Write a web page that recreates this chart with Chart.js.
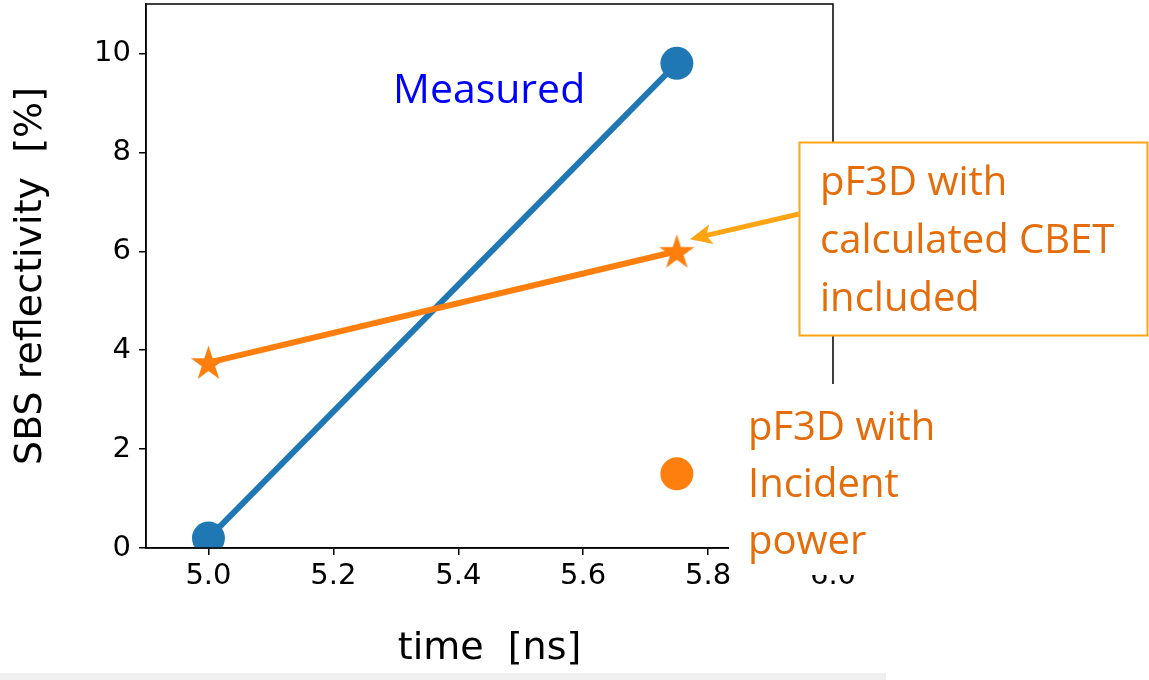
<!DOCTYPE html>
<html>
<head>
<meta charset="utf-8">
<script src="https://cdn.jsdelivr.net/npm/chart.js@4/dist/chart.umd.min.js"></script>
<style>
  html, body { margin: 0; padding: 0; background: #ffffff; }
  #wrap { width: 1149px; height: 680px; position: relative; }
  canvas { display: block; }
</style>
</head>
<body>
<div id="wrap"><canvas id="c" width="1149" height="680"></canvas></div>
<script>
// ---- data ----
const timeMeasured = [5.0, 5.75];
const reflMeasured = [0.2, 9.8];
const timeCBET = [5.0, 5.75];
const reflCBET = [3.75, 6.0];
const timeIncident = [5.75];
const reflIncident = [1.5];
const xTicks = [5.0, 5.2, 5.4, 5.6, 5.8, 6.0];
const yTicks = [0, 2, 4, 6, 8, 10];
const xTitle = 'time  [ns]';
const yTitle = 'SBS reflectivity  [%]';
const labelMeasured = 'Measured';
const labelCBET = ['pF3D with', 'calculated CBET', 'included'];
const labelIncident = ['pF3D with', 'Incident', 'power'];

const BLUE = '#1f77b4';
const ORANGE = '#ff7f0e';
const NOTE_ORANGE = '#E46C0A';
const BOX_ORANGE = '#FFA412';

function toPoints(xs, ys) { return xs.map((x, i) => ({ x: x, y: ys[i] })); }

function makeStar(r, color) {
  const c = document.createElement('canvas');
  const s = Math.ceil(r * 2 + 2);
  c.width = s; c.height = s;
  const g = c.getContext('2d');
  g.fillStyle = color;
  g.beginPath();
  for (let i = 0; i < 10; i++) {
    const rr = (i % 2) ? r * 0.381966 : r;
    const a = -Math.PI / 2 + i * Math.PI / 5;
    g.lineTo(s / 2 + rr * Math.cos(a), s / 2 + 1.5 + rr * Math.sin(a));
  }
  g.closePath();
  g.fill();
  return c;
}
const starImg = makeStar(18.5, ORANGE);

const overlay = {
  id: 'overlay',
  afterDraw(chart) {
    const ctx = chart.ctx;
    const xs = chart.scales.x, ys = chart.scales.y;
    ctx.save();
    // bottom grey strip of the slide
    ctx.fillStyle = '#F0F0F0';
    ctx.fillRect(0, 673, 886, 7);
    // white text area hiding part of the frame
    ctx.fillStyle = '#ffffff';
    ctx.fillRect(729, 384, 260, 191);
    // "Measured"
    ctx.font = '41px "Open Sans"';
    ctx.fillStyle = '#0000FF';
    ctx.textAlign = 'left';
    ctx.textBaseline = 'alphabetic';
    ctx.fillText(labelMeasured, 393, 103);
    // Incident note
    ctx.font = '40px "Open Sans"';
    ctx.fillStyle = NOTE_ORANGE;
    labelIncident.forEach((t, i) => ctx.fillText(t, 748, 440 + i * 57));
    // CBET box
    ctx.fillStyle = '#ffffff';
    ctx.fillRect(799, 142, 349, 194);
    ctx.strokeStyle = BOX_ORANGE;
    ctx.lineWidth = 2;
    ctx.strokeRect(799.5, 142.5, 348, 193);
    ctx.fillStyle = NOTE_ORANGE;
    labelCBET.forEach((t, i) => ctx.fillText(t, 820, 195 + i * 58));
    // arrow from box to the CBET star
    const sx = xs.getPixelForValue(timeCBET[1]);
    const sy = ys.getPixelForValue(reflCBET[1]);
    const tipX = sx + 13, tipY = sy - 12;
    const fromX = 799, fromY = 214;
    const ang = Math.atan2(tipY - fromY, tipX - fromX);
    const headLen = 22, headW = 10;
    const bx = tipX - headLen * Math.cos(ang), by = tipY - headLen * Math.sin(ang);
    ctx.strokeStyle = BOX_ORANGE;
    ctx.lineWidth = 5;
    ctx.beginPath();
    ctx.moveTo(fromX, fromY);
    ctx.lineTo(bx + 6 * Math.cos(ang), by + 6 * Math.sin(ang));
    ctx.stroke();
    ctx.fillStyle = BOX_ORANGE;
    ctx.beginPath();
    ctx.moveTo(tipX, tipY);
    ctx.lineTo(bx - headW * Math.sin(ang), by + headW * Math.cos(ang));
    ctx.lineTo(bx + 5 * Math.cos(ang), by + 5 * Math.sin(ang));
    ctx.lineTo(bx + headW * Math.sin(ang), by - headW * Math.cos(ang));
    ctx.closePath();
    ctx.fill();
    ctx.restore();
  }
};

const frame = {
  id: 'frame',
  afterDatasetsDraw(chart) {
    const a = chart.chartArea, ctx = chart.ctx;
    ctx.save();
    ctx.strokeStyle = '#000';
    ctx.lineWidth = 1.5;
    ctx.strokeRect(a.left, a.top, a.right - a.left, a.bottom - a.top);
    ctx.restore();
  }
};

const tickFont = { family: 'DejaVu Sans', size: 29 };
const titleFont = { family: 'DejaVu Sans', size: 38 };

new Chart(document.getElementById('c'), {
  type: 'line',
  data: {
    datasets: [
      {
        label: 'Measured',
        data: toPoints(timeMeasured, reflMeasured),
        borderColor: BLUE, backgroundColor: BLUE,
        borderWidth: 6, pointRadius: 16.5, pointHoverRadius: 16.5,
        pointBorderWidth: 0, pointBackgroundColor: BLUE,
        clip: { left: false, top: false, right: false, bottom: 0 },
        order: 3
      },
      {
        label: 'pF3D with calculated CBET included',
        data: toPoints(timeCBET, reflCBET),
        borderColor: ORANGE, backgroundColor: ORANGE,
        borderWidth: 6, pointStyle: starImg, pointRadius: 18,
        order: 2
      },
      {
        label: 'pF3D with Incident power',
        data: toPoints(timeIncident, reflIncident),
        showLine: false,
        borderColor: ORANGE, backgroundColor: ORANGE,
        pointRadius: 16.5, pointBorderWidth: 0, pointBackgroundColor: ORANGE,
        order: 1
      }
    ]
  },
  options: {
    responsive: false,
    animation: false,
    devicePixelRatio: 1,
    layout: { autoPadding: false, padding: { left: 0, top: 4, right: 316, bottom: 0 } },
    plugins: { legend: { display: false }, tooltip: { enabled: false } },
    scales: {
      x: {
        type: 'linear', min: 4.9, max: 6.0,
        afterBuildTicks(s) { s.ticks = xTicks.map(v => ({ value: v })); },
        afterFit(s) { s.height = 132; s.paddingLeft = 0; s.paddingRight = 0; },
        grid: { drawOnChartArea: false, drawTicks: true, tickLength: 7, color: '#000', lineWidth: 1.5 },
        border: { display: true, color: '#000', width: 1.5 },
        ticks: { font: tickFont, color: '#000', padding: 4, maxRotation: 0, autoSkip: false,
                 callback: v => Number(v).toFixed(1) },
        title: { display: true, text: xTitle, font: titleFont, color: '#000', padding: { top: 0, bottom: 8 } }
      },
      y: {
        type: 'linear', min: 0, max: 11,
        afterBuildTicks(s) { s.ticks = yTicks.map(v => ({ value: v })); },
        afterFit(s) { s.width = 146; s.paddingTop = 0; s.paddingBottom = 0; },
        grid: { drawOnChartArea: false, drawTicks: true, tickLength: 7, color: '#000', lineWidth: 1.5 },
        border: { display: true, color: '#000', width: 1.5 },
        ticks: { font: tickFont, color: '#000', padding: 8, autoSkip: false,
                 callback: v => String(v) },
        title: { display: true, text: yTitle, font: titleFont, color: '#000', padding: { top: 8, bottom: 0 } }
      }
    }
  },
  plugins: [frame, overlay]
});
</script>
</body>
</html>
